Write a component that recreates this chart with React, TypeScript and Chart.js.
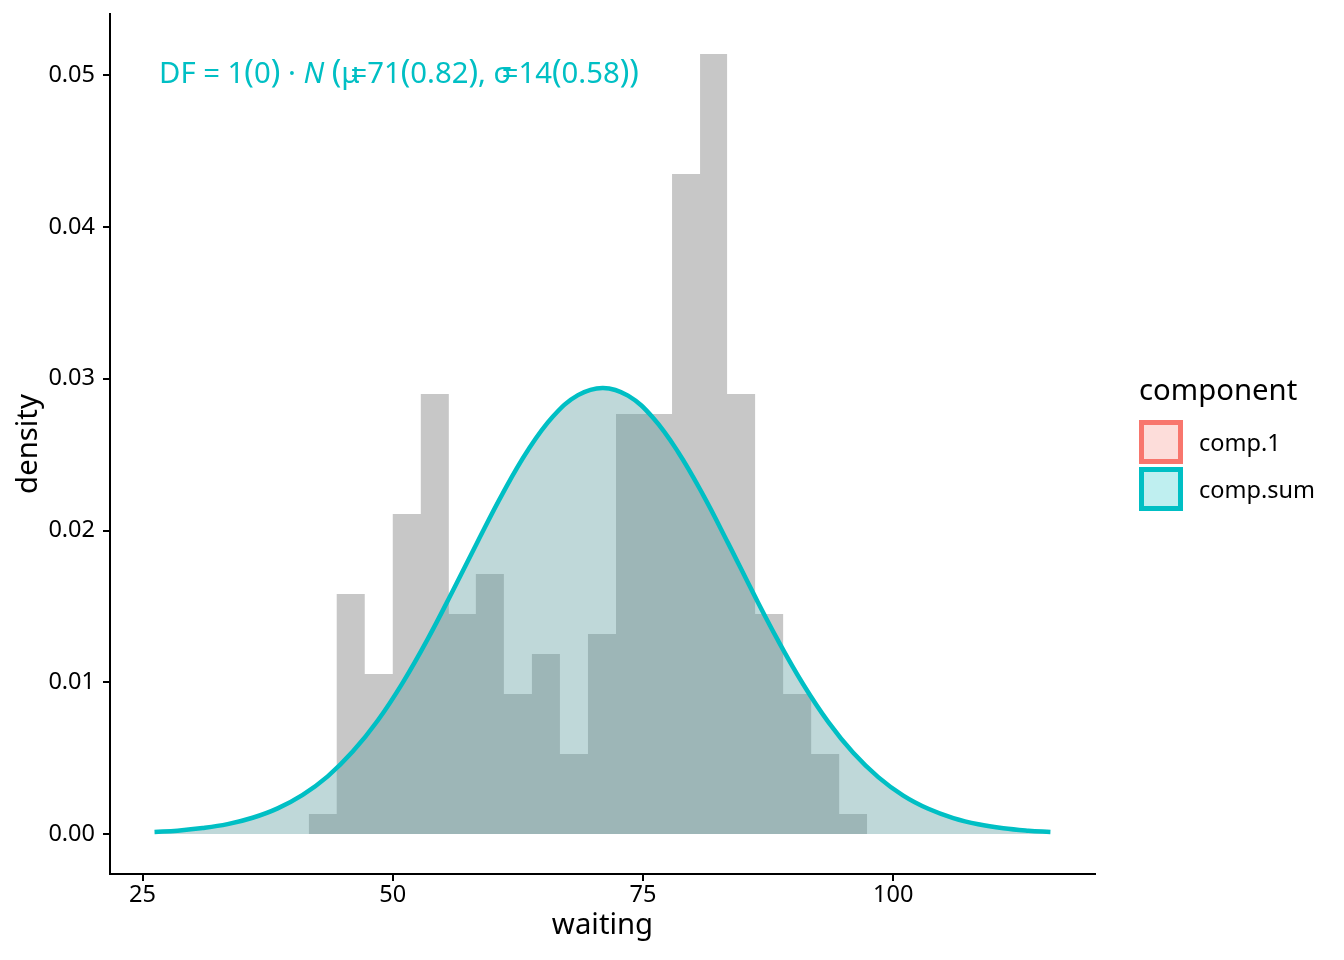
import { useEffect, useRef } from "react"
import { Chart, registerables } from "chart.js"

Chart.register(...registerables)

// histogram of waiting (20 bins), left edge of each bin and its density
const binStarts = [41.6, 44.4, 47.2, 50.0, 52.8, 55.6, 58.3, 61.1, 63.9, 66.7, 69.5, 72.3, 75.1, 77.9, 80.7, 83.4, 86.2, 89.0, 91.8, 94.6]
const binEnd = 97.4
const binDensity = [
  0.00132, 0.01582, 0.01054, 0.02109, 0.029, 0.0145, 0.01713, 0.00923, 0.01186, 0.00527,
  0.01318, 0.02768, 0.02768, 0.0435, 0.0514, 0.029, 0.0145, 0.00923, 0.00527, 0.00132,
]

// fitted component curve (comp.sum)
const curveX = [
  26.2, 28.5, 31, 33.5, 36, 38.5, 41, 43.5, 46, 48.5, 51, 53.5, 56, 58.5, 61, 63.5, 66, 68.5, 71,
  73.5, 76, 78.5, 81, 83.5, 86, 88.5, 91, 93.5, 96, 98.5, 101, 103.5, 106, 108.5, 111, 113.5, 115.7,
]
const curveY = [
  0.00013, 0.00022, 0.00039, 0.00065, 0.00107, 0.00169, 0.00258, 0.0038, 0.00543, 0.00748,
  0.00998, 0.01286, 0.01603, 0.0193, 0.02247, 0.02529, 0.02751, 0.02892, 0.0294, 0.02889,
  0.02743, 0.02518, 0.02235, 0.01917, 0.01589, 0.01274, 0.00987, 0.00739, 0.00535, 0.00375,
  0.00253, 0.00166, 0.00105, 0.00064, 0.00038, 0.00022, 0.00013,
]

const xTicks = [25, 50, 75, 100]
const yTicks = [0, 0.01, 0.02, 0.03, 0.04, 0.05]

const legendTitle = "component"
const legendItems = [
  { label: "comp.1", stroke: "#F8766D", fill: "rgba(248, 118, 109, 0.25)" },
  { label: "comp.sum", stroke: "#00BFC4", fill: "rgba(0, 191, 196, 0.25)" },
]

// formula label pieces; advance < 1 lets the next piece overlap, as in the plotmath output
const annotation = [
  { text: "DF = 1", advance: 1 },
  { text: "(", advance: 1, paren: true },
  { text: "0", advance: 1 },
  { text: ")", advance: 1, paren: true },
  { text: " · ", advance: 1 },
  { text: "N", advance: 1, italic: true },
  { text: " ", advance: 1 },
  { text: "(", advance: 1, paren: true },
  { text: "μ", advance: 0.5 },
  { text: "=71", advance: 1 },
  { text: "(", advance: 1, paren: true },
  { text: "0.82", advance: 1 },
  { text: ")", advance: 1, paren: true },
  { text: ", ", advance: 1 },
  { text: "σ", advance: 0.45 },
  { text: "=14", advance: 1 },
  { text: "(", advance: 1, paren: true },
  { text: "0.58", advance: 1 },
  { text: ")", advance: 1, paren: true },
  { text: ")", advance: 1, paren: true },
]

const FONT = '"Noto Sans", sans-serif'
const TEAL = "#00BFC4"

const overlayPlugin = {
  id: "overlay",
  afterDraw(chart: Chart) {
    const ctx = chart.ctx
    const area = chart.chartArea
    ctx.save()

    // axis titles
    ctx.fillStyle = "#000"
    ctx.font = `29.3px ${FONT}`
    ctx.textAlign = "center"
    ctx.textBaseline = "alphabetic"
    ctx.fillText("waiting", (area.left + area.right) / 2, 934)
    ctx.save()
    ctx.translate(37, (area.top + area.bottom) / 2)
    ctx.rotate(-Math.PI / 2)
    ctx.fillText("density", 0, 0)
    ctx.restore()

    // formula label
    ctx.fillStyle = TEAL
    ctx.textAlign = "left"
    let x = 159
    annotation.forEach((p) => {
      const size = p.paren ? 32 : 29.3
      ctx.font = `${p.italic ? "italic " : ""}${size}px ${FONT}`
      ctx.fillText(p.text, x, 83)
      x += ctx.measureText(p.text).width * p.advance
    })

    // legend
    ctx.fillStyle = "#000"
    ctx.font = `29.3px ${FONT}`
    ctx.fillText(legendTitle, 1139, 400)
    ctx.font = `23.5px ${FONT}`
    legendItems.forEach((item, i) => {
      const top = 420 + i * 47
      ctx.fillStyle = "#fff"
      ctx.fillRect(1139, top, 44, 44)
      ctx.fillStyle = item.fill
      ctx.fillRect(1139, top, 44, 44)
      ctx.strokeStyle = item.stroke
      ctx.lineWidth = 5
      ctx.strokeRect(1141.5, top + 2.5, 39, 39)
      ctx.fillStyle = "#000"
      ctx.fillText(item.label, 1199, top + 31)
    })

    ctx.restore()
  },
}

export default function App() {
  const chartRef = useRef<HTMLCanvasElement>(null)
  const chartInstance = useRef<Chart | null>(null)

  useEffect(() => {
    if (!chartRef.current) return
    if (chartInstance.current) chartInstance.current.destroy()

    const histPoints = binStarts.map((x, i) => ({ x, y: binDensity[i] })).concat([{ x: binEnd, y: 0 }])
    const curvePoints = curveX.map((x, i) => ({ x, y: curveY[i] }))

    const axisCommon = {
      grid: { drawOnChartArea: false, drawTicks: true, tickLength: 7, color: "#000", lineWidth: 2 },
      border: { display: true, color: "#000", width: 2 },
    }

    chartInstance.current = new Chart(chartRef.current, {
      type: "line",
      data: {
        datasets: [
          {
            label: "comp.sum",
            data: curvePoints,
            borderColor: TEAL,
            borderWidth: 4.5,
            backgroundColor: "rgba(95, 158, 160, 0.4)",
            fill: "origin",
            pointRadius: 0,
            tension: 0.4,
          },
          {
            label: "histogram",
            data: histPoints,
            stepped: true,
            borderWidth: 0,
            borderColor: "rgba(0,0,0,0)",
            backgroundColor: "#C7C7C7",
            fill: "origin",
            pointRadius: 0,
          },
        ],
      },
      options: {
        responsive: true,
        maintainAspectRatio: false,
        animation: false,
        events: [],
        layout: { padding: { top: 14, right: 249, bottom: 0, left: 0 } },
        plugins: {
          legend: { display: false },
          tooltip: { enabled: false },
        },
        scales: {
          x: {
            type: "linear",
            min: 21.75,
            max: 120.155,
            ...axisCommon,
            afterBuildTicks: (scale: any) => {
              scale.ticks = xTicks.map((v) => ({ value: v }))
            },
            afterFit: (scale: any) => {
              scale.height = 86
              scale.paddingLeft = 0
              scale.paddingRight = 0
            },
            ticks: {
              color: "#000",
              font: { family: FONT, size: 23.5 },
              padding: 0,
              maxRotation: 0,
              autoSkip: false,
            },
          },
          y: {
            type: "linear",
            min: -0.002636,
            max: 0.05404,
            ...axisCommon,
            afterBuildTicks: (scale: any) => {
              scale.ticks = yTicks.map((v) => ({ value: v }))
            },
            afterFit: (scale: any) => {
              scale.width = 110
              scale.paddingTop = 0
              scale.paddingBottom = 0
            },
            ticks: {
              color: "#000",
              font: { family: FONT, size: 23.5 },
              padding: 8,
              autoSkip: false,
              callback: (v: any) => Number(v).toFixed(2),
            },
          },
        },
      },
      plugins: [overlayPlugin],
    })

    return () => {
      if (chartInstance.current) {
        chartInstance.current.destroy()
        chartInstance.current = null
      }
    }
  }, [])

  return (
    <div style={{ position: "fixed", left: 0, top: 0, width: 1344, height: 960, background: "#fff" }}>
      <canvas ref={chartRef} />
    </div>
  )
}
